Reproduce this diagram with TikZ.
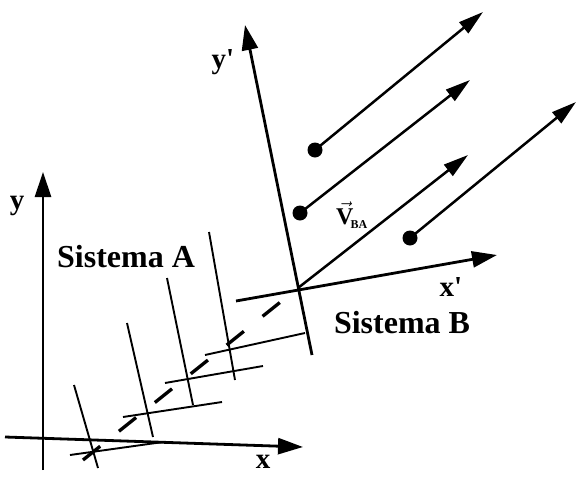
\documentclass[tikz,border=0pt]{standalone}
\usepackage{fontspec}
\setmainfont{Liberation Serif}
\newfontfamily\rawserif[Ligatures=ResetAll]{Liberation Serif}
\usetikzlibrary{arrows.meta}
\newcommand{\prm}{{\rawserif\bfseries\char"0027}}
\begin{document}
\begin{tikzpicture}[x=1pt,y=-1pt,
  axis/.style={line width=2.8pt,-{Triangle[length=25pt,width=16pt]}},
  frameline/.style={line width=1.9pt},
  vel/.style={line width=2.5pt,-{Triangle[length=25pt,width=14pt]}},
  dotpt/.style={circle,fill=black,inner sep=0pt,minimum size=15pt},
  biglabel/.style={font=\fontsize{32}{36}\selectfont\bfseries,inner sep=0pt},
  axlabel/.style={font=\fontsize{29}{32}\selectfont\bfseries,inner sep=0pt},
  path/.style={line width=3.3pt,dash pattern=on 22pt off 24pt}
]
\useasboundingbox (0,0) rectangle (579,477);
% System A
\coordinate (Ayb) at (43,470);
\coordinate (Ayt) at (43,172);
\coordinate (Axl) at (5,437);
\coordinate (Axr) at (303,447);
\draw[axis] (Ayb) -- (Ayt);
\draw[axis] (Axl) -- (Axr);
\node[axlabel] (ly) at (17,206) {y};
\node[axlabel] (lx) at (263,462) {x};
\node[biglabel] (sa) at (126,257) {Sistema A};
% System B
\coordinate (O) at (298,288);
\coordinate (Byb) at (312,355);
\coordinate (Byt) at (245,25);
\coordinate (Bxl) at (236,301);
\coordinate (Bxr) at (497,255);
\draw[axis] (Byb) -- (Byt);
\draw[axis] (Bxl) -- (Bxr);
\node[axlabel] (lyp) at (223,62) {y\prm};
\node[axlabel] (lxp) at (451,287) {x\prm};
\node[biglabel] (sb) at (402,323) {Sistema B};
% intermediate frames
\coordinate (F1a) at (74,385);  \coordinate (F1b) at (98,468);
\coordinate (F1c) at (70,455);  \coordinate (F1d) at (163,442);
\coordinate (F2a) at (127,323); \coordinate (F2b) at (153,437);
\coordinate (F2c) at (123,417); \coordinate (F2d) at (222,402);
\coordinate (F3a) at (167,278); \coordinate (F3b) at (193,405);
\coordinate (F3c) at (165,383); \coordinate (F3d) at (263,366);
\coordinate (F4a) at (209,232); \coordinate (F4b) at (235,380);
\coordinate (F4c) at (205,355); \coordinate (F4d) at (305,333);
\foreach \i in {1,2,3,4}{
  \draw[frameline] (F\i a) -- (F\i b);
  \draw[frameline] (F\i c) -- (F\i d);
}
% dashed path of origin
\coordinate (D0) at (83,460);
\draw[path] (D0) -- (O);
% velocity
\coordinate (Vt) at (468,155);
\draw[vel] (O) -- (Vt);
\node[inner sep=0pt] (lv) at (352,215) {\fontsize{24}{26}\selectfont$\vec{\textbf{V}}_{\!\fontsize{12}{13}\selectfont\textbf{BA}}$};
\node[dotpt] (p1) at (315,150) {};
\node[dotpt] (p2) at (300,213) {};
\node[dotpt] (p3) at (410,238) {};
\coordinate (t1) at (483,12);
\coordinate (t2) at (470,80);
\coordinate (t3) at (576,102);
\draw[vel] (p1.center) -- (t1);
\draw[vel] (p2.center) -- (t2);
\draw[vel] (p3.center) -- (t3);
\end{tikzpicture}
\end{document}
